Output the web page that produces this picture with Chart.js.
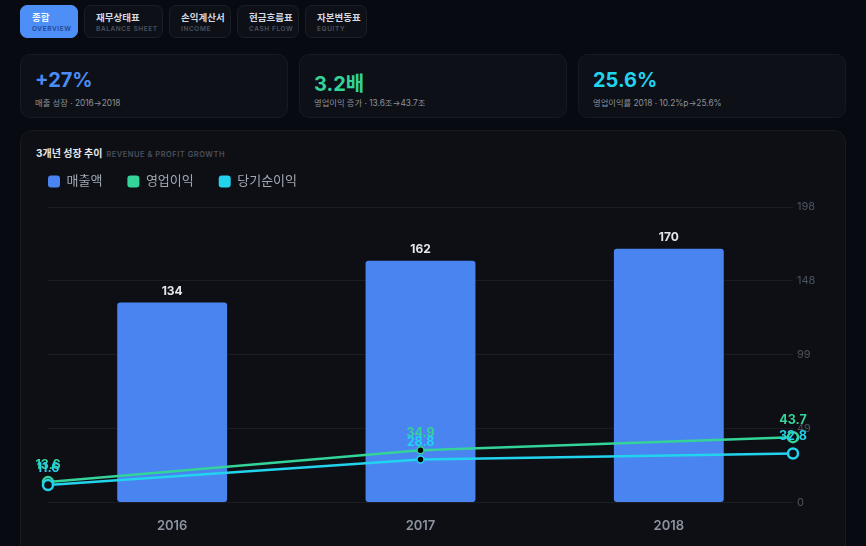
<!DOCTYPE html>
<html lang="ko">
<head>
<meta charset="utf-8">
<script src="https://cdn.jsdelivr.net/npm/chart.js@4.4.1/dist/chart.umd.min.js"></script>
<style>
  html, body { margin: 0; padding: 0; }
  body {
    width: 866px; height: 546px; overflow: hidden; position: relative;
    background: #070a10;
    font-family: Inter, "Noto Sans CJK KR", sans-serif;
  }
  /* 상단 탭 */
  .tab {
    position: absolute; top: 5px; height: 33px; box-sizing: border-box;
    border-radius: 7px; background: #0d1016; border: 1px solid #1b1e26;
    padding: 5px 0 0 11px;
  }
  .tab b { display: block; font-size: 9.5px; font-weight: 700; color: #d4d8e0; line-height: 13px; }
  .tab span { display: block; font-size: 6.5px; font-weight: 600; letter-spacing: 0.6px; color: #4c525e; line-height: 10px; }
  .tab.on { background: #4d8ef7; border-color: #4d8ef7; }
  .tab.on b { color: #f2f6ff; }
  .tab.on span { color: #24478f; }
  /* KPI 카드 */
  .kpi {
    position: absolute; top: 54px; width: 268px; height: 64px; box-sizing: border-box;
    border-radius: 10px; background: #0d1016; border: 1px solid #171a22;
  }
  .kpi .v { position: absolute; left: 14px; top: 13px; font-size: 20px; font-weight: 700; }
  .kpi .s { position: absolute; left: 14px; top: 41px; font-size: 8.3px; color: #8d939e; }
  /* 차트 카드 */
  .card {
    position: absolute; left: 20px; top: 130px; width: 826px; height: 440px; box-sizing: border-box;
    border-radius: 12px; background: #0d0f15; border: 1px solid #171a22;
  }
  .card .t { position: absolute; left: 15px; top: 14px; font-size: 10px; font-weight: 700; color: #e6e8ee; }
  .card .t small { margin-left: 4px; font-size: 7.5px; font-weight: 600; letter-spacing: 0.5px; color: #4b505c; }
  #chart { position: absolute; left: 23px; top: 150px; }
</style>
</head>
<body>
  <div class="tab on" style="left:20px;width:58px"><b>종합</b><span>OVERVIEW</span></div>
  <div class="tab" style="left:84px;width:79px"><b>재무상태표</b><span>BALANCE SHEET</span></div>
  <div class="tab" style="left:169px;width:62px"><b>손익계산서</b><span>INCOME</span></div>
  <div class="tab" style="left:237px;width:62px"><b>현금흐름표</b><span>CASH FLOW</span></div>
  <div class="tab" style="left:305px;width:62px"><b>자본변동표</b><span>EQUITY</span></div>

  <div class="kpi" style="left:20px"><div class="v" style="color:#4b8bf5">+27%</div><div class="s">매출 성장 · 2016→2018</div></div>
  <div class="kpi" style="left:299px"><div class="v" style="color:#34d399">3.2배</div><div class="s">영업이익 증가 · 13.6조→43.7조</div></div>
  <div class="kpi" style="left:578px"><div class="v" style="color:#22d3ee">25.6%</div><div class="s">영업이익률 2018 · 10.2%p→25.6%</div></div>

  <div class="card"><div class="t">3개년 성장 추이<small>REVENUE &amp; PROFIT GROWTH</small></div></div>
  <canvas id="chart" width="807" height="392" style="width:807px;height:392px"></canvas>

<script>
// 데이터 (단위: 조원)
const years = ['2016', '2017', '2018'];
const revenue = [134, 162, 170];
const operatingProfit = [13.6, 34.9, 43.7];
const netProfit = [11.6, 28.8, 32.8];
const yMax = 198;

const BLUE = '#4a84f0';
const GREEN = '#34d399';
const CYAN = '#22d3ee';
const FONT = 'Inter, "Noto Sans CJK KR", sans-serif';

Chart.defaults.font.family = FONT;

// 막대/점 위 값 표시
const valueLabels = {
  id: 'valueLabels',
  afterDatasetsDraw(chart) {
    const ctx = chart.ctx;
    ctx.save();
    ctx.textAlign = 'center';
    ctx.textBaseline = 'middle';
    chart.data.datasets.forEach((ds, i) => {
      const meta = chart.getDatasetMeta(i);
      meta.data.forEach((el, j) => {
        const v = ds.data[j];
        if (ds.type === 'line') {
          ctx.font = '700 12.5px ' + FONT;
          ctx.fillStyle = ds.borderColor;
          ctx.fillText(v.toFixed(1), el.x, el.y - 17);
        } else {
          ctx.font = '700 12px ' + FONT;
          ctx.fillStyle = '#e3e6ec';
          ctx.fillText(String(v), el.x, el.y - 11);
        }
      });
    });
    ctx.restore();
  }
};

// 범례와 차트 영역 사이 간격
const legendGap = {
  id: 'legendGap',
  afterInit(chart) {
    const lg = chart.legend;
    const fit = lg.fit;
    lg.fit = function () { fit.call(this); this.height += 9; };
  }
};

const pointStyle = color => ({
  borderColor: color,
  backgroundColor: color,
  borderWidth: 2.5,
  pointRadius: [5, 3.5, 5],
  pointBorderWidth: [2.5, 1.5, 2.5],
  pointBackgroundColor: ['#0d0f15', '#000000', '#0d0f15'],
  pointBorderColor: color,
  tension: 0,
  fill: false
});

new Chart(document.getElementById('chart'), {
  data: {
    labels: years,
    datasets: [
      {
        type: 'bar', label: '매출액', data: revenue, order: 3, grouped: false,
        backgroundColor: BLUE, borderWidth: 0, borderRadius: 3, borderSkipped: false,
        categoryPercentage: 0.8, barPercentage: 0.553,
        xAxisID: 'x', yAxisID: 'y'
      },
      Object.assign({ type: 'line', label: '영업이익', data: operatingProfit, order: 2, xAxisID: 'x2', yAxisID: 'y' }, pointStyle(GREEN)),
      Object.assign({ type: 'line', label: '당기순이익', data: netProfit, order: 1, xAxisID: 'x2', yAxisID: 'y' }, pointStyle(CYAN))
    ]
  },
  options: {
    responsive: false,
    animation: false,
    layout: { padding: 0 },
    plugins: {
      tooltip: { enabled: false },
      legend: {
        position: 'top',
        align: 'start',
        labels: {
          color: '#a3a9b4',
          font: { size: 13 },
          boxWidth: 12,
          boxHeight: 12,
          padding: 25,
          useBorderRadius: true,
          borderRadius: 3,
          sort: (a, b) => a.datasetIndex - b.datasetIndex,
          generateLabels: chart => Chart.defaults.plugins.legend.labels.generateLabels(chart)
            .map(l => Object.assign(l, { lineWidth: 0, borderRadius: 3 }))
        }
      }
    },
    scales: {
      x: {
        type: 'category', offset: true,
        grid: { display: false }, border: { display: false },
        ticks: { color: '#8d939e', font: { size: 13, weight: '600' }, padding: 8 }
      },
      x2: { type: 'category', offset: false, display: false },
      yl: {
        type: 'linear', position: 'left',
        grid: { display: false }, border: { display: false }, ticks: { display: false },
        afterFit: s => { s.width = 25; }
      },
      y: {
        type: 'linear', position: 'right', min: 0, max: yMax,
        grid: { color: 'rgba(255,255,255,0.06)', drawTicks: false },
        border: { display: false },
        ticks: { count: 5, color: '#4d535e', font: { size: 11 }, padding: 4, callback: v => Math.floor(v) },
        afterFit: s => { s.width = 37; }
      }
    }
  },
  plugins: [valueLabels, legendGap]
});
</script>
</body>
</html>
